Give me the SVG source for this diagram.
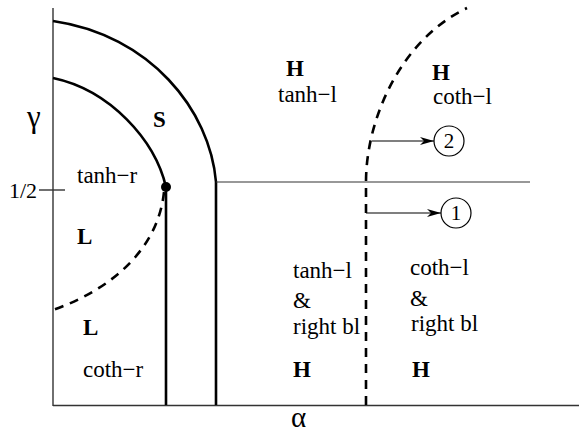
<svg xmlns="http://www.w3.org/2000/svg" width="579" height="432" viewBox="0 0 579 432">
<style>
.t{font-family:"Liberation Serif","Times New Roman",serif;font-size:23px;fill:#000}
.b{font-weight:bold}
.thick{fill:none;stroke:#000;stroke-width:2.6}
.dash{fill:none;stroke:#000;stroke-width:2.6;stroke-dasharray:9,7}
.thin{fill:none;stroke:#333;stroke-width:1.4}
.arr{fill:none;stroke:#000;stroke-width:1.2;marker-end:url(#ah)}
.circ{fill:none;stroke:#000;stroke-width:1.2}
</style>
<defs>
<marker id="ah" viewBox="0 0 14 8" refX="14" refY="4" markerWidth="14" markerHeight="8" markerUnits="userSpaceOnUse" orient="auto">
<path d="M0,0 L14,4 L0,8 L4,4 Z" fill="#000"/>
</marker>
</defs>
<g id="axes">
<line class="thin" x1="53" y1="8" x2="53" y2="406"/>
<line class="thin" x1="53" y1="405.5" x2="579" y2="405.5"/>
<line class="thin" x1="39" y1="190" x2="65" y2="190"/>
<text class="t" x="9" y="198" style="font-size:22px">1/2</text>
<text class="t" x="27" y="127" style="font-size:31px">γ</text>
<text class="t" x="291" y="427" style="font-size:29px">α</text>
</g>
<g id="connectors">
<path class="thick" d="M53,21 C150,35 210,110 216,182 L216,405"/>
<path class="thick" d="M53,78 C110,90 155,140 166,187 L166,405"/>
<path class="dash" d="M164,192 C158,250 110,290 53,310"/>
<path class="dash" d="M366,405 L366,182 C366,120 400,40 467,8"/>
<line class="thin" x1="216" y1="182" x2="530" y2="182" style="stroke-width:1.2"/>
<path class="arr" d="M372,141 L434,141"/>
<path class="arr" d="M366,213 L441,213"/>
</g>
<g id="dot"><circle cx="166" cy="187" r="5" fill="#000"/></g>
<g id="circle2"><circle class="circ" cx="449" cy="141" r="15"/><text class="t" x="449" y="148" text-anchor="middle" style="font-size:21px">2</text></g>
<g id="circle1"><circle class="circ" cx="456" cy="213" r="15"/><text class="t" x="456" y="220" text-anchor="middle" style="font-size:21px">1</text></g>
<g id="labels">
<text class="t b" x="153" y="127">S</text>
<text class="t" x="77" y="183">tanh−r</text>
<text class="t b" x="77" y="244">L</text>
<text class="t b" x="83" y="335">L</text>
<text class="t" x="83" y="377">coth−r</text>
<text class="t b" x="286" y="76">H</text>
<text class="t" x="278" y="102">tanh−l</text>
<text class="t b" x="432" y="80">H</text>
<text class="t" x="433" y="104">coth−l</text>
<text class="t" x="293" y="278">tanh−l</text>
<text class="t" x="293" y="308">&amp;</text>
<text class="t" x="293" y="334">right bl</text>
<text class="t b" x="293" y="377">H</text>
<text class="t" x="410" y="275">coth−l</text>
<text class="t" x="410" y="306">&amp;</text>
<text class="t" x="411" y="331">right bl</text>
<text class="t b" x="412" y="377">H</text>
</g>
</svg>
